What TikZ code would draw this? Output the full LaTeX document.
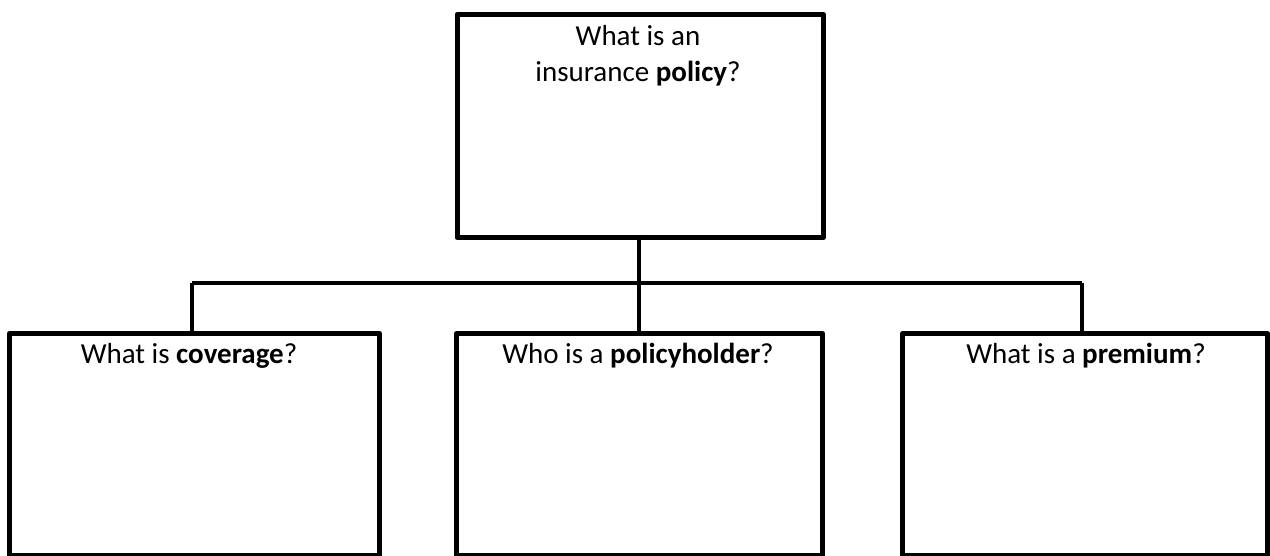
\documentclass[tikz,border=0pt]{standalone}
\usepackage{fontspec}
\setmainfont{Carlito}
\begin{document}
\begin{tikzpicture}[x=1pt,y=-1pt,
  qbox/.style={draw=black,line width=5pt,line join=round,inner sep=0pt,anchor=north west},
  link/.style={draw=black,line width=4.5pt,line join=round},
  qtext/.style={anchor=base,inner sep=0pt,font=\fontsize{29}{36}\selectfont}]
\useasboundingbox (0,0) rectangle (1270,556);
\node[qbox,minimum width=366.5pt,minimum height=223pt] (top) at (454.5,12) {};
\node[qbox,minimum width=370pt,minimum height=222pt] (left) at (7,331) {};
\node[qbox,minimum width=366pt,minimum height=222pt] (mid) at (454,331) {};
\node[qbox,minimum width=365pt,minimum height=222pt] (right) at (900,331) {};
\node[qtext] (t1) at (638,46) {What is an};
\node[qtext] (t2) at (638,82) {insurance \textbf{policy}?};
\node[qtext] (l1) at (189,363) {What is \textbf{coverage}?};
\node[qtext] (m1) at (638,363) {Who is a \textbf{policyholder}?};
\node[qtext] (r1) at (1086,363) {What is a \textbf{premium}?};
\coordinate (hub) at (639,283);
\coordinate (hl) at (192,283);
\coordinate (hr) at (1082,283);
\draw[link] (639,235) -- (hub);
\draw[link] (hl) -- (hr);
\draw[link] (hl) -- (hl |- left.north);
\draw[link] (hub) -- (hub |- mid.north);
\draw[link] (hr) -- (hr |- right.north);
\end{tikzpicture}
\end{document}
